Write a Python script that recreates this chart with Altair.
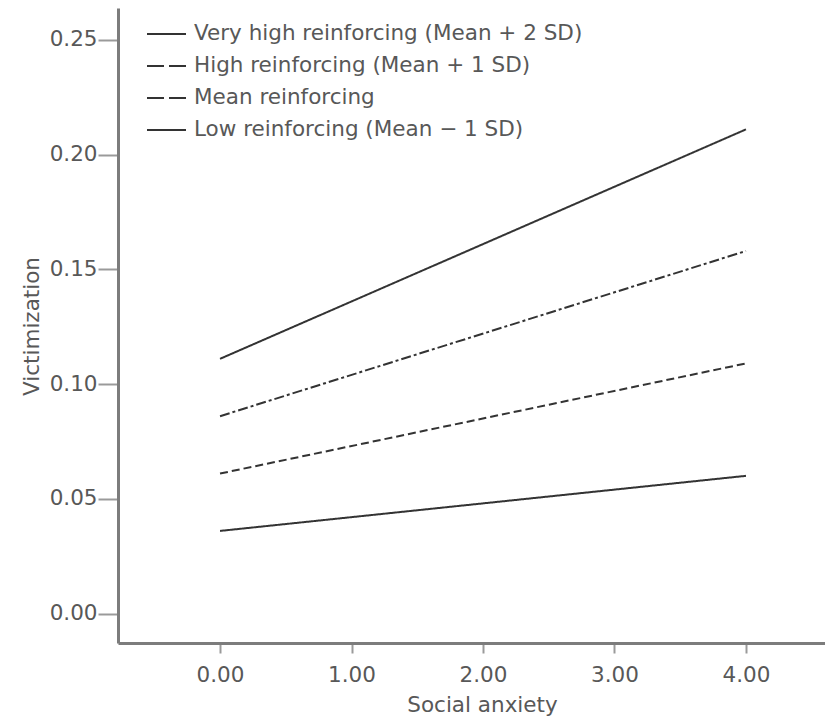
import altair as alt
import pandas as pd

# ---- data ----
series = [
    "Very high reinforcing (Mean + 2 SD)",
    "High reinforcing (Mean + 1 SD)",
    "Mean reinforcing",
    "Low reinforcing (Mean − 1 SD)",
]
x_vals = [0.0, 4.0]
very_high = [0.111, 0.211]
high = [0.086, 0.158]
mean = [0.061, 0.109]
low = [0.036, 0.060]
x_ticks = [0, 1, 2, 3, 4]
y_ticks = [0.00, 0.05, 0.10, 0.15, 0.20, 0.25]

rows = []
for i, (name, ys) in enumerate(zip(series, [very_high, high, mean, low])):
    for x, y in zip(x_vals, ys):
        rows.append({"series": name, "i": i, "x": x, "y": y})
df = pd.DataFrame(rows)
leg = pd.DataFrame({"series": series, "i": list(range(len(series)))})

FONT = "DejaVu Sans"
FS = 21.5
TXT = "#585858"
LINE = "#333333"
AX = "#7c7c7c"
TICK = "#9a9a9a"

dashes = {
    series[0]: [1, 0],
    series[1]: [10, 3, 3, 3],
    series[2]: [8, 4],
    series[3]: [1, 0],
}
leg_dashes = {
    series[0]: [1, 0],
    series[1]: [17, 5],
    series[2]: [17, 5],
    series[3]: [1, 0],
}

xscale = alt.Scale(domain=[-0.776, 4.601], nice=False, zero=False)
yscale = alt.Scale(domain=[-0.01285, 0.2639], nice=False, zero=False)

lines = alt.Chart(df).mark_line(color=LINE, strokeWidth=2).encode(
    x=alt.X("x:Q", scale=xscale,
            axis=alt.Axis(values=x_ticks, format=".2f", title="Social anxiety",
                          grid=False, domainColor=AX, domainWidth=3,
                          tickColor=TICK, tickSize=10, tickWidth=2,
                          labelFont=FONT, labelFontSize=FS, labelColor=TXT,
                          labelPadding=11, titleFont=FONT, titleFontSize=FS,
                          titleFontWeight="normal", titleColor=TXT,
                          titleX=364, titleY=62, titleBaseline="middle")),
    y=alt.Y("y:Q", scale=yscale,
            axis=alt.Axis(values=y_ticks, format=".2f", title="Victimization",
                          grid=False, domainColor=AX, domainWidth=3,
                          tickColor=TICK, tickSize=20, tickWidth=2,
                          labelFont=FONT, labelFontSize=FS, labelColor=TXT,
                          labelPadding=1, titleFont=FONT, titleFontSize=FS,
                          titleFontWeight="normal", titleColor=TXT,
                          titleX=-86, titleY=318, titleBaseline="middle")),
    detail="series:N",
    strokeDash=alt.StrokeDash("series:N",
                              scale=alt.Scale(domain=series,
                                              range=[dashes[s] for s in series]),
                              legend=None),
)

leg_base = alt.Chart(leg).transform_calculate(ly="26 + 32*datum.i")

leg_rules = leg_base.mark_rule(color=LINE, strokeWidth=2).encode(
    x=alt.value(29), x2=alt.value(68),
    y=alt.Y("ly:Q", scale=None),
    strokeDash=alt.StrokeDash("series:N",
                              scale=alt.Scale(domain=series,
                                              range=[leg_dashes[s] for s in series]),
                              legend=None),
)

leg_text = leg_base.mark_text(align="left", baseline="middle", font=FONT,
                              fontSize=FS, color=TXT).encode(
    x=alt.value(76),
    y=alt.Y("ly:Q", scale=None),
    text="series:N",
)

chart = alt.layer(lines, leg_rules, leg_text).resolve_scale(
    strokeDash="independent"
).properties(
    width=707, height=635,
    autosize=alt.AutoSizeParams(type="none"),
    padding={"left": 110, "top": 0, "right": 0, "bottom": 73},
).configure_view(stroke=None)

chart.save("out.html", embed_options={"renderer": "svg", "actions": False})
